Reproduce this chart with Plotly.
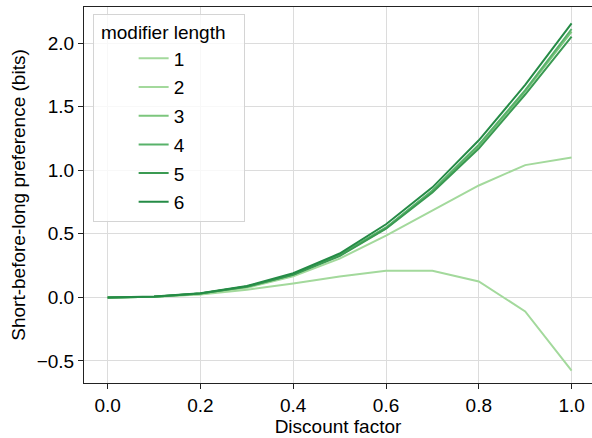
import plotly.graph_objects as go

discount = [0.0, 0.1, 0.2, 0.3, 0.4, 0.5, 0.6, 0.7, 0.8, 0.9, 1.0]
lengths = ["1", "2", "3", "4", "5", "6"]
pref_1 = [0.0, 0.005, 0.022, 0.06, 0.11, 0.165, 0.21, 0.21, 0.125, -0.11, -0.575]
pref_2 = [0.0, 0.005, 0.025, 0.075, 0.165, 0.305, 0.485, 0.68, 0.88, 1.04, 1.10]
pref_3 = [0.0, 0.006, 0.03, 0.085, 0.18, 0.33, 0.545, 0.835, 1.19, 1.62, 2.09]
pref_4 = [0.0, 0.006, 0.03, 0.085, 0.18, 0.335, 0.55, 0.84, 1.20, 1.63, 2.11]
pref_5 = [0.0, 0.006, 0.03, 0.084, 0.178, 0.325, 0.54, 0.825, 1.17, 1.595, 2.05]
pref_6 = [0.0, 0.007, 0.032, 0.09, 0.19, 0.345, 0.575, 0.865, 1.235, 1.67, 2.155]
series = [pref_1, pref_2, pref_3, pref_4, pref_5, pref_6]
colors = ["#a3d99c", "#a3d99c", "#7cc67d", "#58b26a", "#3a9a52", "#258b46"]

font = "Liberation Sans, Arial, sans-serif"
fs = 19
fig = go.Figure()
for name, ys, c in zip(lengths, series, colors):
    fig.add_trace(go.Scatter(x=discount, y=ys, mode="lines", name=name,
                             legendgroup=name,
                             line=dict(color=c, width=2)))

fig.update_layout(
    width=592, height=438,
    margin=dict(l=84, r=0, t=7, b=55),
    paper_bgcolor="white", plot_bgcolor="white",
    font=dict(family=font, size=fs, color="black"),
    showlegend=True,
    legend=dict(
        title=dict(text="\u00a0modifier length\u00a0\u00a0\u00a0", side="top",
                   font=dict(size=fs)),
        x=0.017, y=0.982, xanchor="left", yanchor="top",
        bgcolor="rgba(255,255,255,0.8)", bordercolor="#d4d4d4", borderwidth=1,
        font=dict(size=fs), tracegroupgap=1,
        indentation=40,
    ),
    xaxis=dict(
        range=[-0.051, 1.044], tickvals=[0, 0.2, 0.4, 0.6, 0.8, 1.0],
        ticktext=["0.0", "0.2", "0.4", "0.6", "0.8", "1.0"],
        showgrid=True, gridcolor="#dcdcdc", gridwidth=1,
        showline=True, linecolor="#222", linewidth=1, mirror=True,
        ticks="outside", ticklen=5, tickcolor="#222",
        zeroline=False,
        title=dict(text="Discount factor", font=dict(size=fs), standoff=4),
    ),
    yaxis=dict(
        range=[-0.673, 2.283], tickvals=[-0.5, 0, 0.5, 1.0, 1.5, 2.0],
        ticktext=["\u22120.5", "0.0", "0.5", "1.0", "1.5", "2.0"],
        showgrid=True, gridcolor="#dcdcdc", gridwidth=1,
        showline=True, linecolor="#222", linewidth=1,
        ticks="outside", ticklen=5, tickcolor="#222",
        zeroline=False,
        title=dict(text="Short-before-long preference (bits)", font=dict(size=fs), standoff=6),
    ),
)
fig.write_html("out.html")
